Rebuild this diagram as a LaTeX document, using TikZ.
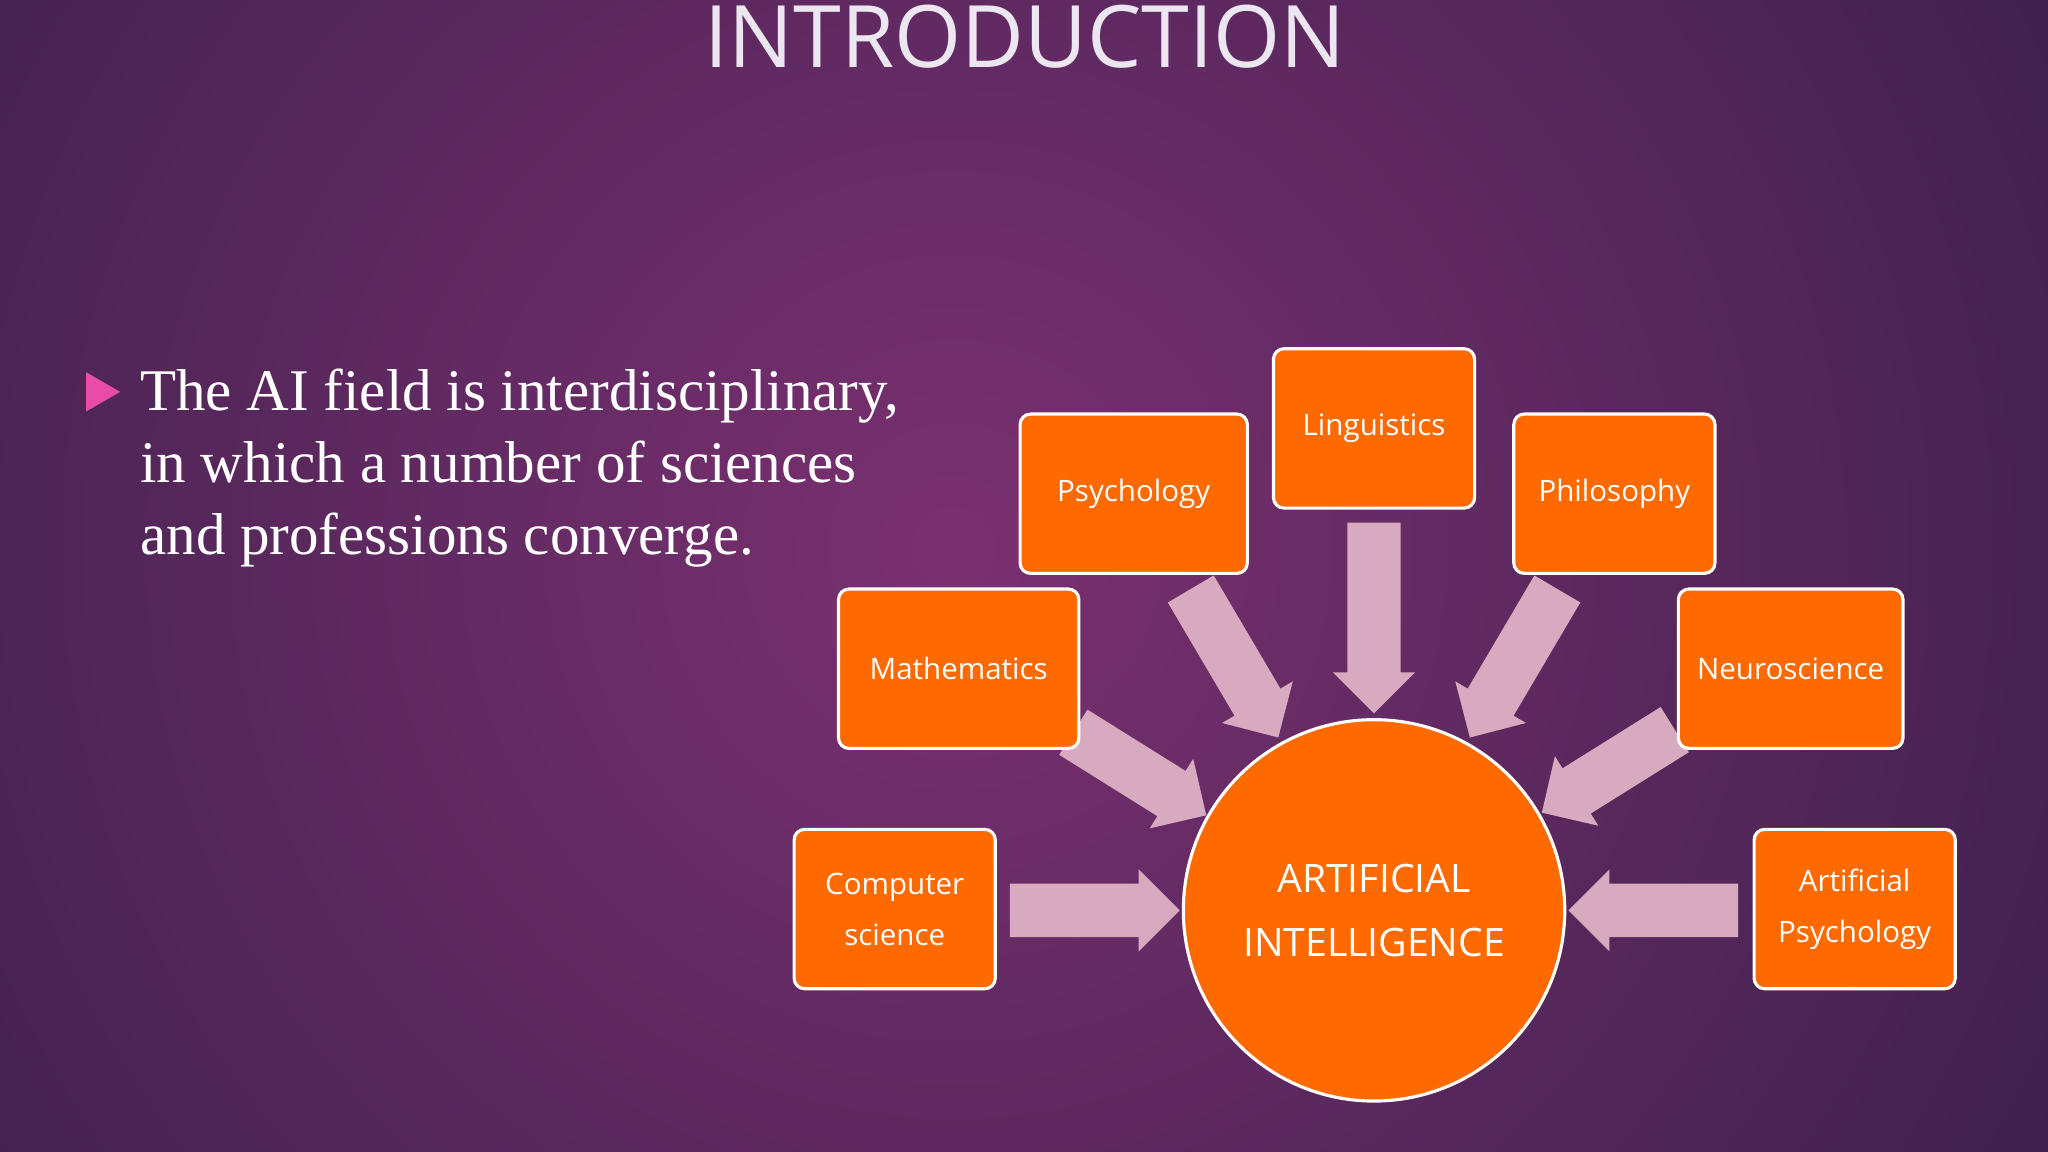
\documentclass[tikz,border=0pt]{standalone}
\usepackage{fontspec}
\setmainfont{Liberation Serif}
\newfontfamily\boxfont{Open Sans}
\usetikzlibrary{shapes.arrows}
\definecolor{bgin}{HTML}{7A3070}
\definecolor{bgout}{HTML}{261B40}
\definecolor{org}{HTML}{FF6A00}
\definecolor{arr}{HTML}{D8AABF}
\definecolor{ttl}{HTML}{ECE6F0}
\definecolor{bul}{HTML}{E84BA8}
\tikzset{
  box/.style={draw=white,line width=1.2pt,fill=org,rounded corners=4pt,minimum width=77pt,minimum height=61pt,align=center,text=white,font=\boxfont\fontsize{11.3}{19.5}\selectfont},
  barrow/.style={single arrow,fill=arr,draw=none,single arrow head extend=5.5pt,inner xsep=0pt,inner ysep=10pt,anchor=center}
}
\begin{document}
\begin{tikzpicture}[x=0.5pt,y=0.5pt]
\useasboundingbox (0,0) rectangle (1568,-882);
\clip (0,0) rectangle (1568,-882);
\shade[inner color=bgin,outer color=bgout] (730,-420) circle (1350);
% title
\node[text=ttl,font=\boxfont\fontsize{33}{40}\selectfont] (title) at (785,-28) {INTRODUCTION};
% bullet
\fill[bul] (66,-285) -- (92,-300) -- (66,-315) -- cycle;
\node[anchor=north west,text=white,align=left,font=\fontsize{22.6}{27.5}\selectfont,inner sep=0pt] (txt) at (107,-282) {The AI field is interdisciplinary,\\in which a number of sciences\\and professions converge.};
% arrows
\node[barrow,minimum height=65pt] (a1) at (828,-697) {};
\node[barrow,minimum height=65pt,shape border rotate=180] (a2) at (1276,-697) {};
\node[barrow,minimum height=73pt,rotate=-90] (a3) at (1052,-463) {};
\node[barrow,minimum height=66pt,rotate=-59.5] (a4) at (940,-499) {};
\node[barrow,minimum height=66pt,rotate=-120.5] (a5) at (1164,-499) {};
\node[barrow,minimum height=60pt,rotate=-32] (a6) at (864,-587) {};
\node[barrow,minimum height=60pt,rotate=-148] (a7) at (1240,-585) {};
% boxes
\node[box] (ling) at (1052,-328) {Linguistics};
\node[box,minimum width=87pt] (psy) at (868,-378) {Psychology};
\node[box] (phil) at (1236,-378) {Philosophy};
\node[box,minimum width=92pt] (math) at (734,-512) {Mathematics};
\node[box,minimum width=86pt] (neuro) at (1371,-512) {Neuroscience};
\node[box] (cs) at (685,-696) {Computer\\science};
\node[box] (ap) at (1420,-696) {Artificial\\Psychology};
\node[circle,draw=white,line width=1.2pt,fill=org,minimum size=146pt,align=center,text=white,font=\boxfont\fontsize{15}{24.5}\selectfont] (ai) at (1052,-697) {ARTIFICIAL\\INTELLIGENCE};
\end{tikzpicture}
\end{document}
